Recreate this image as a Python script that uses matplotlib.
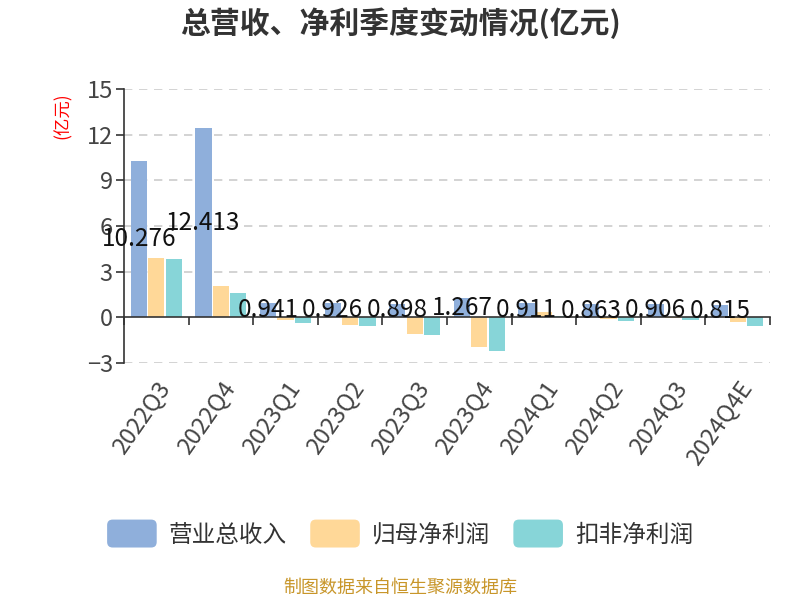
import numpy as np
import matplotlib
matplotlib.use("Agg")
import matplotlib.pyplot as plt
from matplotlib.patches import FancyBboxPatch
from matplotlib.legend_handler import HandlerPatch
import matplotlib.patches as mpatches

plt.rcParams['font.family'] = ['Noto Sans CJK SC', 'DejaVu Sans']

# data (亿元)
quarters = ['2022Q3', '2022Q4', '2023Q1', '2023Q2', '2023Q3',
            '2023Q4', '2024Q1', '2024Q2', '2024Q3', '2024Q4E']
revenue = [10.276, 12.413, 0.941, 0.926, 0.898, 1.267, 0.911, 0.863, 0.906, 0.815]
net_profit = [3.88, 2.03, -0.18, -0.51, -1.08, -1.97, 0.37, -0.13, -0.03, -0.33]
deducted_profit = [3.82, 1.61, -0.35, -0.60, -1.17, -2.24, 0.11, -0.22, -0.17, -0.59]
series_names = ['营业总收入', '归母净利润', '扣非净利润']
colors = ['#8FAFDB', '#FFD898', '#87D5D8']
y_ticks = [-3, 0, 3, 6, 9, 12, 15]


class RoundHandler(HandlerPatch):
    # rounded legend keys like the source chart
    def create_artists(self, legend, orig_handle, xdescent, ydescent,
                       width, height, fontsize, trans):
        p = FancyBboxPatch((-xdescent, -ydescent - 3), width, height + 6,
                           boxstyle="round,pad=0,rounding_size=4",
                           facecolor=orig_handle.get_facecolor(),
                           edgecolor='none', transform=trans)
        return [p]


fig = plt.figure(figsize=(8, 6), dpi=100)
ax = fig.add_axes([0.155, 0.395, 0.8075, 0.4567])

x = np.arange(len(quarters))
bw = 0.25
step = 0.27
handles = []
for i, (vals, c) in enumerate(zip([revenue, net_profit, deducted_profit], colors)):
    ax.bar(x + (i - 1) * step, vals, width=bw, color=c, zorder=2)
    handles.append(mpatches.Patch(facecolor=c, label=series_names[i]))

# value labels for revenue, placed mid-bar like the source chart
for xi, v in zip(x, revenue):
    ax.text(xi - step, v / 2, f'{v:.3f}', ha='center', va='center',
            fontsize=17.5, color='#111111', zorder=4)

ax.set_xlim(-0.5, len(quarters) - 0.5)
ax.set_ylim(-3, 15)
ax.set_yticks(y_ticks)
ax.tick_params(axis='y', labelsize=17, colors='#333333', length=6, width=1.2, pad=2)
for t in ax.get_yticklabels():
    t.set_color('#444444')
ax.grid(axis='y', linestyle=(0, (5, 4)), color='#cccccc', linewidth=1.2, zorder=0)
for gl, val in zip(ax.get_ygridlines(), y_ticks):
    if val == 0:
        gl.set_visible(False)

for s in ['top', 'right', 'bottom']:
    ax.spines[s].set_visible(False)
ax.spines['left'].set_color('#333333')
ax.spines['left'].set_linewidth(1.2)

ax.set_xticks(x)
ax.set_xticklabels(quarters, rotation=55, ha='right', rotation_mode='anchor',
                   fontsize=17, color='#444444')
ax.tick_params(axis='x', length=0, pad=10)

# zero axis line with category boundary ticks
zloc = (0 - (-3)) / (15 - (-3))
sec = ax.secondary_xaxis(zloc)
sec.set_xticks(np.arange(len(quarters) + 1) - 0.5)
sec.set_xticklabels([])
sec.tick_params(axis='x', length=6, width=1.2, color='#333333', direction='out')
sec.spines['bottom'].set_color('#333333')
sec.spines['bottom'].set_linewidth(1.2)
sec.set_zorder(3)

fig.text(0.5, 0.962, '总营收、净利季度变动情况(亿元)', ha='center', va='center',
         fontsize=21.5, fontweight='bold', color='#333333')
fig.text(0.079, 0.808, '(亿元)', rotation=90, ha='center', va='center',
         fontsize=12.5, color='red')

fig.legend(handles=handles, loc='center', bbox_to_anchor=(0.5, 0.108),
           ncol=3, frameon=False, fontsize=17, handlelength=2.1, handleheight=0.9,
           handletextpad=0.5, columnspacing=1.0, labelcolor='#333333',
           handler_map={mpatches.Patch: RoundHandler()})

fig.text(0.5, 0.02, '制图数据来自恒生聚源数据库', ha='center', va='center',
         fontsize=13, color='#C8962A')

fig.savefig('out.png', dpi=100)
